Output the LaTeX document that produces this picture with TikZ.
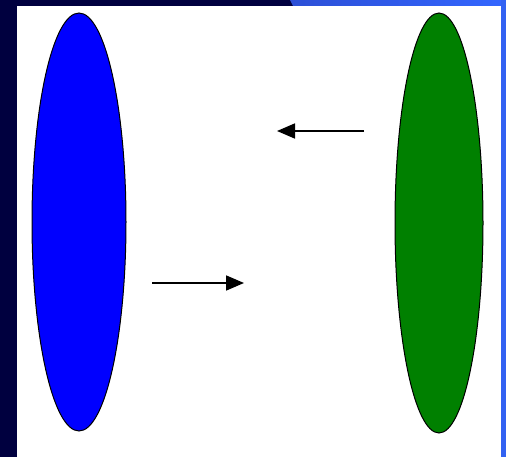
\documentclass[tikz,border=0pt]{standalone}
\usetikzlibrary{shapes.geometric,arrows.meta}
\definecolor{navy}{HTML}{00003F}
\definecolor{bandA}{HTML}{2C4FD6}
\definecolor{bandB}{HTML}{3366FF}
\definecolor{band}{HTML}{3262F2}
\definecolor{blob1}{HTML}{0000FF}
\definecolor{blob2}{HTML}{008000}
\tikzset{
  blob/.style={ellipse, draw=black, line width=1pt, inner sep=0pt, outer sep=0pt},
  push/.style={line width=1.8pt, -{Triangle[length=18pt,width=15pt]}}
}
\begin{document}
\begin{tikzpicture}[x=1pt,y=-1pt]
\useasboundingbox (0,0) rectangle (506,457);
\fill[navy] (0,0) rectangle (506,457);
\shade[left color=bandA, right color=bandB] (290,0) -- (506,0) -- (506,6) -- (293,6) -- cycle;
\fill[band] (501,0) rectangle (506,457);
\fill[white] (17,6) rectangle (501,457);
\node[blob, fill=blob1, minimum width=94pt, minimum height=418pt] (left) at (79,222) {};
\node[blob, fill=blob2, minimum width=88pt, minimum height=420pt] (right) at (439,223) {};
\coordinate (a1) at (152,283);
\coordinate (a2) at (244,283);
\coordinate (b1) at (364,131);
\coordinate (b2) at (277,131);
\draw[push] (a1) -- (a2);
\draw[push] (b1) -- (b2);
\end{tikzpicture}
\end{document}
